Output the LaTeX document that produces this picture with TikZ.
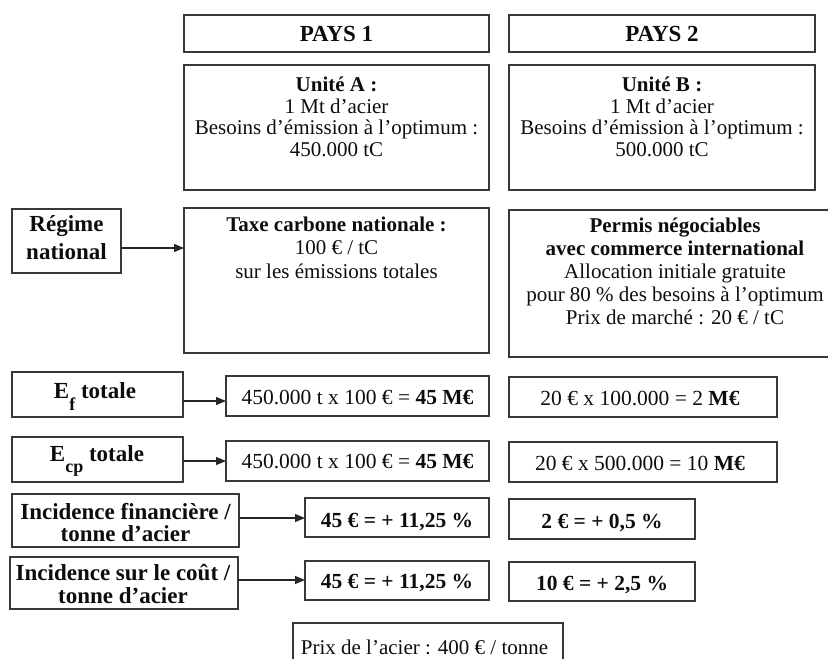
\documentclass[tikz,border=0pt]{standalone}
\usepackage{fontspec}
\setmainfont{Liberation Serif}
\usetikzlibrary{arrows.meta,calc}
\newcommand\mkbox[5]{\node[bx,minimum width={#4pt-#2pt},minimum height={#5pt-#3pt}] (#1) at ({(#2+#4)/2},{(#3+#5)/2}) {};}
\begin{document}
\begin{tikzpicture}[x=1pt,y=-1pt,
  bx/.style={draw=black!78,line width=1.2pt,inner sep=0pt,outer sep=0pt},
  tx/.style={anchor=base,align=center,inner sep=0pt,text=black!95},
  hdr/.style={font=\fontsize{23}{23}\selectfont\bfseries},
  bodyA/.style={font=\fontsize{21}{21.5}\selectfont},
  bodyB/.style={font=\fontsize{21}{23.5}\selectfont},
  oneline/.style={font=\fontsize{21.5}{22}\selectfont},
  lab/.style={font=\fontsize{23}{23}\selectfont\bfseries},
  arr/.style={line width=1.1pt,draw=black!85,-{Triangle[length=10pt,width=8pt]}}]
\useasboundingbox (0,0) rectangle (828,659);
\clip (0,0) rectangle (828,659);
% boxes
\mkbox{pays1}{184}{15}{489}{52}
\mkbox{pays2}{509}{15}{815}{52}
\mkbox{unitA}{184}{65}{489}{190}
\mkbox{unitB}{509}{65}{815}{190}
\mkbox{regime}{12}{209}{121}{273}
\mkbox{taxe}{184}{208}{489}{353}
\mkbox{permis}{509}{210}{840}{357}
\mkbox{ef}{12}{372}{183}{417}
\mkbox{efA}{226}{376}{489}{416}
\mkbox{efB}{509}{377}{777}{417}
\mkbox{ecp}{12}{437}{183}{482}
\mkbox{ecpA}{226}{441}{489}{481}
\mkbox{ecpB}{509}{442}{777}{482}
\mkbox{incf}{12}{494}{239}{547}
\mkbox{incfA}{305}{498}{489}{537}
\mkbox{incfB}{509}{499}{695}{539}
\mkbox{incc}{10}{557}{238}{609}
\mkbox{inccA}{305}{561}{489}{600}
\mkbox{inccB}{509}{562}{695}{601}
\mkbox{prix}{293}{623}{563}{675}
% texts (anchor = baseline of the last line)
\node[tx,hdr] (pays1t) at (336.5,41.5) {PAYS 1};
\node[tx,hdr] (pays2t) at (662,41.5) {PAYS 2};
\node[tx,bodyA] (unitAt) at (336.5,156) {\textbf{Unité A :}\\1 Mt d’acier\\Besoins d’émission à l’optimum :\\450.000 tC};
\node[tx,bodyA] (unitBt) at (662,156) {\textbf{Unité B :}\\1 Mt d’acier\\Besoins d’émission à l’optimum :\\500.000 tC};
\node[tx,font=\fontsize{23}{28}\selectfont\bfseries] (regimet) at (66.5,259) {Régime\\national};
\node[tx,bodyB] (taxet) at (336.5,278) {\textbf{Taxe carbone nationale :}\\100 € / tC\\sur les émissions totales};
\node[tx,font=\fontsize{21}{23}\selectfont] (permist) at (675,324) {\textbf{Permis négociables}\\\textbf{avec commerce international}\\Allocation initiale gratuite\\pour 80 \% des besoins à l’optimum\\Prix de marché : 20 € / tC};
\node[tx,lab] (eft) at (95,398) {E\raisebox{-12pt}{\fontsize{18}{18}\selectfont f} totale};
\node[tx,oneline] (efAt) at (357.5,404) {450.000 t x 100 € = \textbf{45 M€}};
\node[tx,oneline] (efBt) at (640,405) {20 € x 100.000 = 2 \textbf{M€}};
\node[tx,lab] (ecpt) at (97,461.7) {E\raisebox{-11pt}{\fontsize{18}{18}\selectfont cp} totale};
\node[tx,oneline] (ecpAt) at (357.5,468) {450.000 t x 100 € = \textbf{45 M€}};
\node[tx,oneline] (ecpBt) at (640,470) {20 € x 500.000 = 10 \textbf{M€}};
\node[tx,font=\fontsize{23}{22.7}\selectfont\bfseries] (incft) at (125.5,541.7) {Incidence financière /\\tonne d’acier};
\node[tx,font=\fontsize{21.5}{22}\selectfont\bfseries] (incfAt) at (397,527) {45 € = + 11,25 \%};
\node[tx,font=\fontsize{21.5}{22}\selectfont\bfseries] (incfBt) at (602,528) {2 € = + 0,5 \%};
\node[tx,font=\fontsize{23}{23}\selectfont\bfseries] (incct) at (123,603.7) {Incidence sur le coût /\\tonne d’acier};
\node[tx,font=\fontsize{21.5}{22}\selectfont\bfseries] (inccAt) at (397,588) {45 € = + 11,25 \%};
\node[tx,font=\fontsize{21.5}{22}\selectfont\bfseries] (inccBt) at (602,590) {10 € = + 2,5 \%};
\node[tx,font=\fontsize{21}{22}\selectfont] (prixt) at (424.5,654) {Prix de l’acier : 400 € / tonne};
% connectors
\coordinate (ra) at ($(regime.east)+(0,7)$);
\draw[arr] (ra) -- (ra -| taxe.west);
\coordinate (ea) at ($(ef.east)+(0,6.5)$);
\draw[arr] (ea) -- (ea -| efA.west);
\coordinate (ca) at ($(ecp.east)+(0,1.5)$);
\draw[arr] (ca) -- (ca -| ecpA.west);
\coordinate (fa) at ($(incf.east)+(0,-2.5)$);
\draw[arr] (fa) -- (fa -| incfA.west);
\coordinate (ia) at ($(incc.east)+(0,-3)$);
\draw[arr] (ia) -- (ia -| inccA.west);
\end{tikzpicture}
\end{document}
